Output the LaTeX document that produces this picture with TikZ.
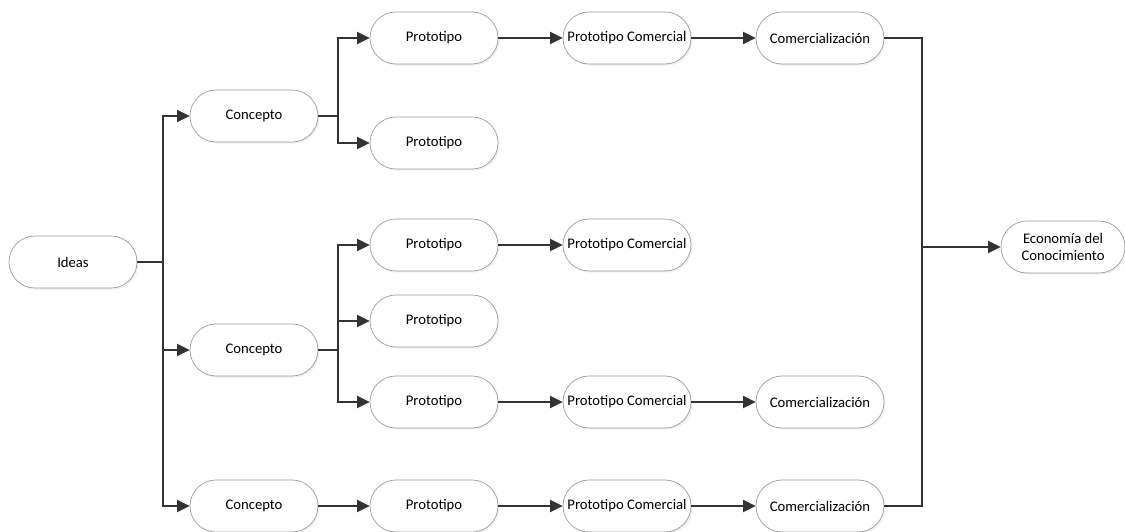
\documentclass[tikz,border=0pt]{standalone}
\usepackage{fontspec}
\setmainfont{Carlito}
\usetikzlibrary{arrows.meta,shadows}
\definecolor{linegray}{HTML}{333333}
\definecolor{edgegray}{HTML}{9A9A9A}
\begin{document}
\begin{tikzpicture}[x=0.75pt,y=-0.75pt,
  every node/.style={font=\fontsize{11}{13}\selectfont},
  pill/.style={draw=edgegray,line width=0.5pt,fill=white,rounded corners=19.5pt,
    minimum width=96pt,minimum height=39pt,inner sep=1pt,align=center,
    drop shadow={opacity=0.12,shadow xshift=1.2pt,shadow yshift=-1.2pt}},
  conn/.style={draw=linegray,line width=1.4pt},
  arr/.style={conn,-{Triangle[length=9.5pt,width=9pt]}}]
  \useasboundingbox (0,0) rectangle (1125,532);
  % nodes
  \node[pill] (ideas) at (73,262) {Ideas};
  \node[pill] (c1) at (254,116) {Concepto};
  \node[pill] (c2) at (254,350) {Concepto};
  \node[pill] (c3) at (254,506) {Concepto};
  \node[pill] (p1) at (434,38) {Prototipo};
  \node[pill] (p2) at (434,143) {Prototipo};
  \node[pill] (p3) at (434,245) {Prototipo};
  \node[pill] (p4) at (434,321) {Prototipo};
  \node[pill] (p5) at (434,402) {Prototipo};
  \node[pill] (p6) at (434,506) {Prototipo};
  \node[pill] (pc1) at (627,38) {Prototipo Comercial};
  \node[pill] (pc3) at (627,245) {Prototipo Comercial};
  \node[pill] (pc5) at (627,402) {Prototipo Comercial};
  \node[pill] (pc6) at (627,506) {Prototipo Comercial};
  \node[pill] (m1) at (820,38) {Comercialización};
  \node[pill] (m5) at (820,402) {Comercialización};
  \node[pill] (m6) at (820,506) {Comercialización};
  \node[pill,minimum width=93pt] (eco) at (1063,247) {Economía del\\Conocimiento};
  % bus points
  \coordinate (bi) at (163,262);
  \coordinate (b1) at (338,116);
  \coordinate (b2) at (338,350);
  \coordinate (br) at (922,247);
  % connectors
  \draw[conn] (ideas) -- (bi);
  \draw[arr] (bi) |- (c1);
  \draw[arr] (bi) |- (c2);
  \draw[arr] (bi) |- (c3);
  \draw[conn] (c1) -- (b1);
  \draw[arr] (b1) |- (p1);
  \draw[arr] (b1) |- (p2);
  \draw[conn] (c2) -- (b2);
  \draw[arr] (b2) |- (p3);
  \draw[arr] (b2) |- (p4);
  \draw[arr] (b2) |- (p5);
  \draw[arr] (c3) -- (p6);
  \draw[arr] (p1) -- (pc1);
  \draw[arr] (p3) -- (pc3);
  \draw[arr] (p5) -- (pc5);
  \draw[arr] (p6) -- (pc6);
  \draw[arr] (pc1) -- (m1);
  \draw[arr] (pc5) -- (m5);
  \draw[arr] (pc6) -- (m6);
  \draw[conn] (m1) -| (br);
  \draw[conn] (m6) -| (br);
  \draw[arr] (br) -- (eco);
\end{tikzpicture}
\end{document}
